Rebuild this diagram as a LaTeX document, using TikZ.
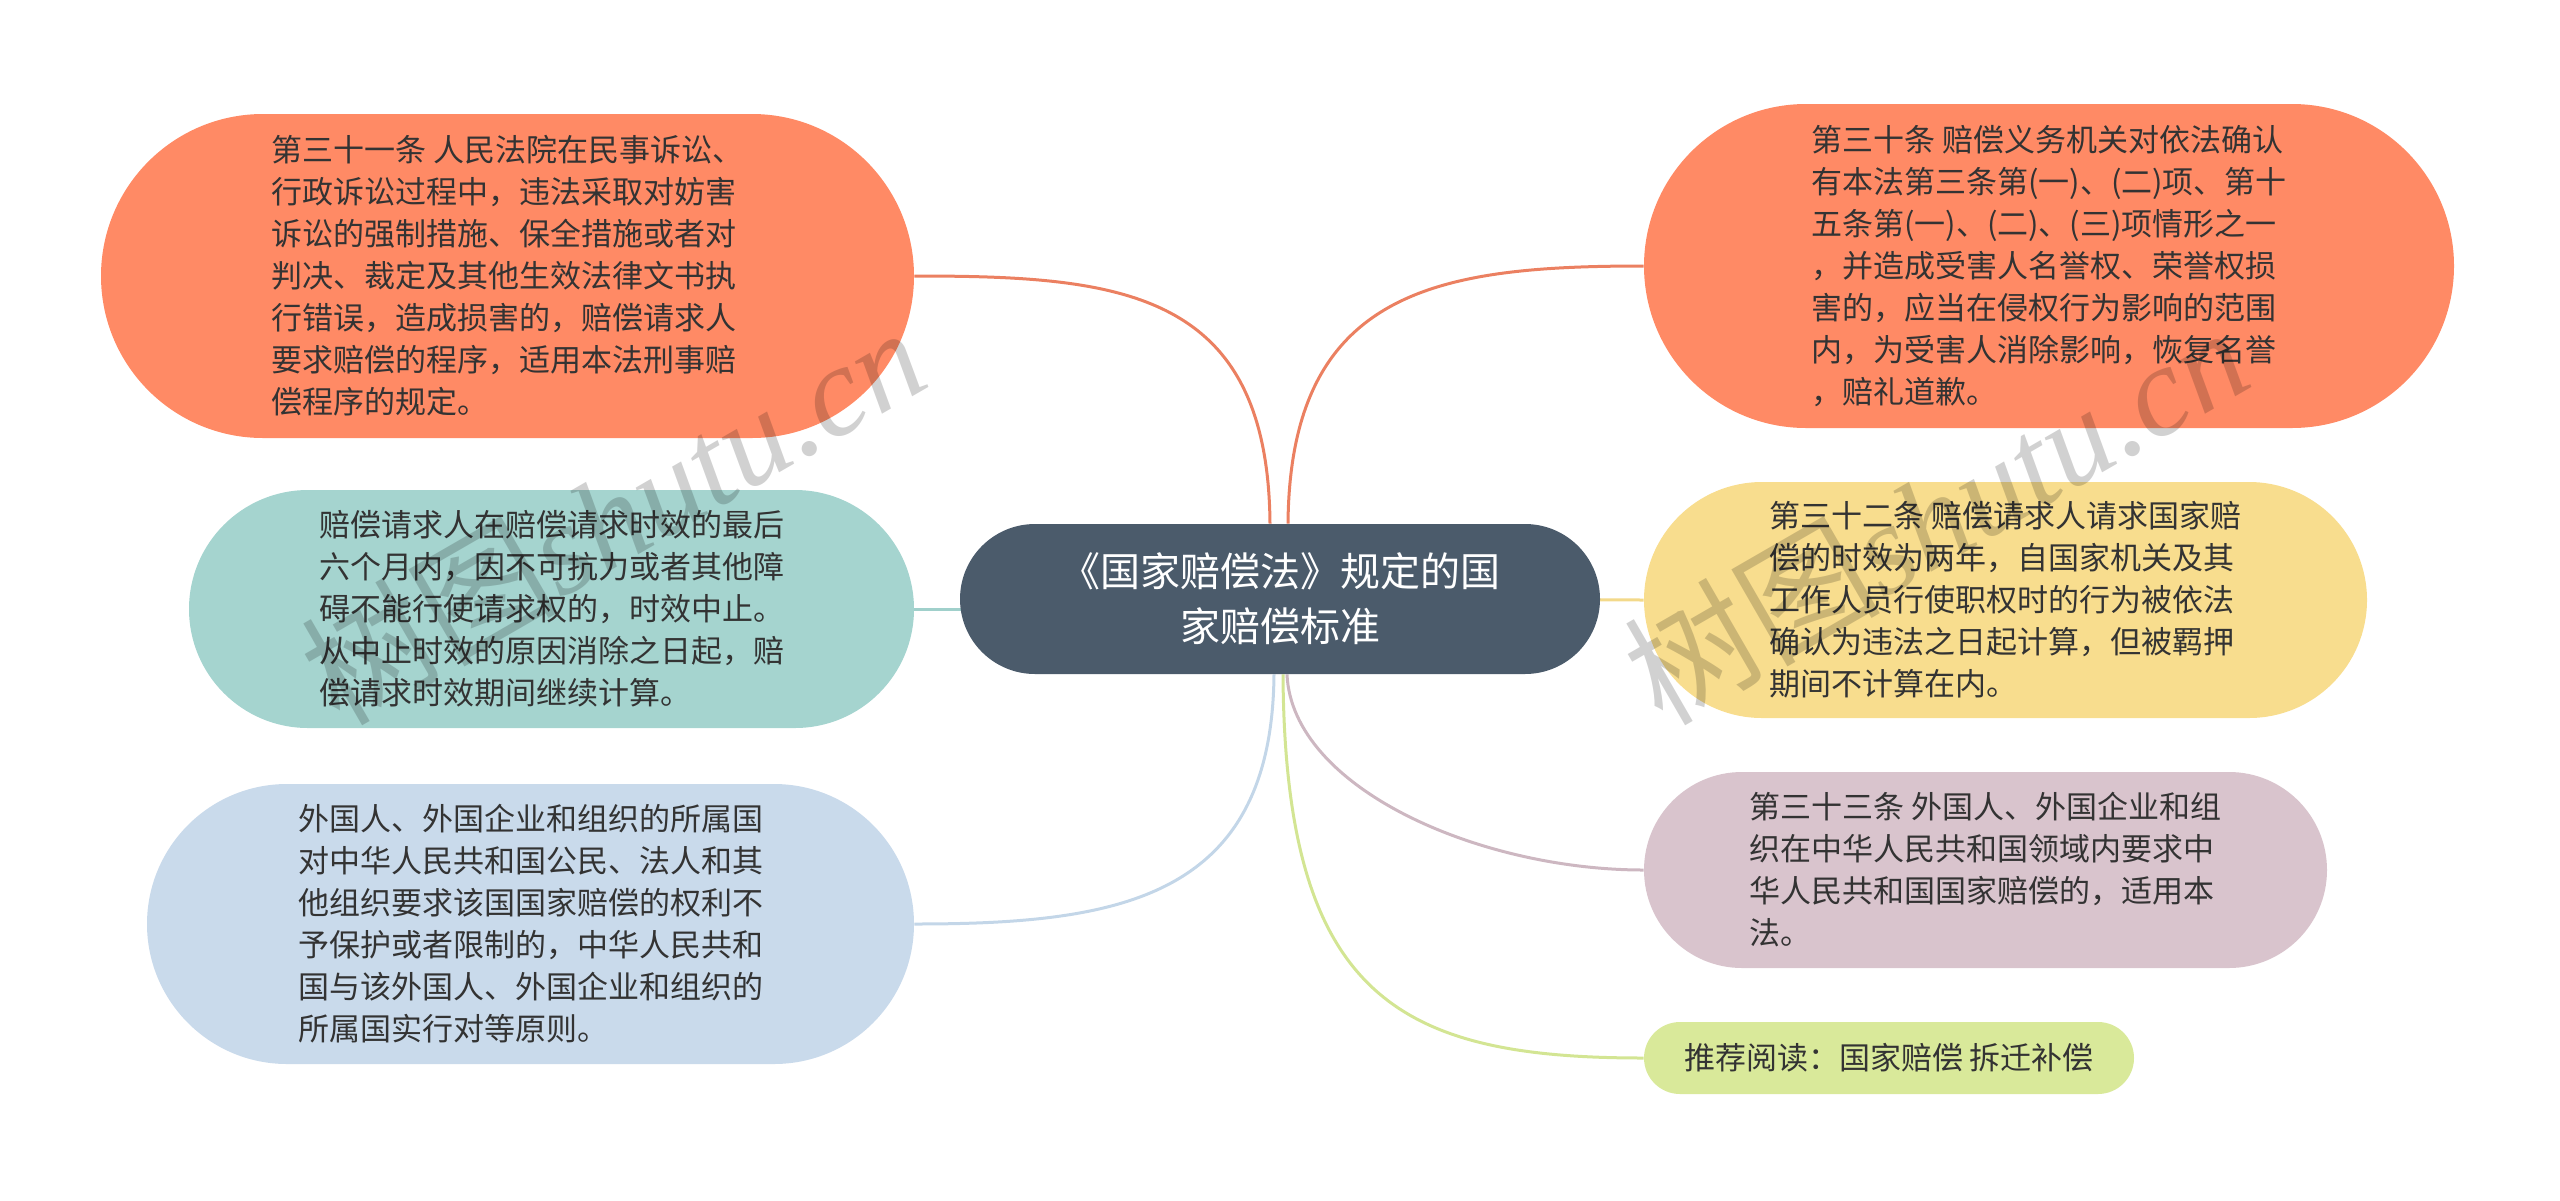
\documentclass[tikz,border=0pt]{standalone}
\usepackage{fontspec}
\setmainfont{Noto Sans CJK SC}
\newfontfamily\wmserif{Liberation Serif}
\pgfdeclarelayer{bg}
\pgfsetlayers{bg,main}
\definecolor{cSalmon}{HTML}{FF8A65}
\definecolor{lSalmon}{HTML}{EB8061}
\definecolor{cTeal}{HTML}{A5D4CF}
\definecolor{lTeal}{HTML}{A0D0CB}
\definecolor{cBlue}{HTML}{C9DAEB}
\definecolor{lBlue}{HTML}{C3D6E8}
\definecolor{cYellow}{HTML}{F8DD8E}
\definecolor{lYellow}{HTML}{F3D98A}
\definecolor{cMauve}{HTML}{D9C4CD}
\definecolor{lMauve}{HTML}{CDB7C1}
\definecolor{cGreen}{HTML}{D9E99A}
\definecolor{lGreen}{HTML}{D3E593}
\definecolor{cCenter}{HTML}{4B5B6B}
\definecolor{txt}{HTML}{333333}
\begin{document}
\begin{tikzpicture}[x=0.5pt,y=-0.5pt,
  leaf/.style={rectangle, inner sep=0pt, align=left, text=txt,
    font=\fontsize{15.5}{21}\selectfont},
  root/.style={rectangle, inner sep=0pt, align=center, text=white, fill=cCenter,
    font=\fontsize{20}{27.5}\selectfont, minimum width=320pt, minimum height=75pt,
    rounded corners=37.5pt},
  link/.style={line width=1.5pt},
  wm/.style={text=black, opacity=0.18, font=\fontsize{64}{64}\selectfont, inner sep=0pt}
]
\useasboundingbox (0,0) rectangle (2560,1200);

\node[root] (ct) at (1280,599) {《国家赔偿法》规定的国\\家赔偿标准};

\node[leaf, fill=cSalmon, minimum width=406.5pt, minimum height=162pt, rounded corners=81pt]
  (n31) at (507.5,276) {第三十一条 人民法院在民事诉讼、\\行政诉讼过程中，违法采取对妨害\\诉讼的强制措施、保全措施或者对\\判决、裁定及其他生效法律文书执\\行错误，造成损害的，赔偿请求人\\要求赔偿的程序，适用本法刑事赔\\偿程序的规定。};

\node[leaf, fill=cSalmon, minimum width=405pt, minimum height=162pt, rounded corners=81pt]
  (n30) at (2049,266) {第三十条 赔偿义务机关对依法确认\\有本法第三条第(一)、(二)项、第十\\五条第(一)、(二)、(三)项情形之一\\，并造成受害人名誉权、荣誉权损\\害的，应当在侵权行为影响的范围\\内，为受害人消除影响，恢复名誉\\，赔礼道歉。};

\node[leaf, fill=cTeal, minimum width=362.5pt, minimum height=119pt, rounded corners=59.5pt]
  (nzz) at (551.5,609) {赔偿请求人在赔偿请求时效的最后\\六个月内，因不可抗力或者其他障\\碍不能行使请求权的，时效中止。\\从中止时效的原因消除之日起，赔\\偿请求时效期间继续计算。};

\node[leaf, fill=cBlue, minimum width=383.5pt, minimum height=140pt, rounded corners=70pt]
  (nwg) at (530.5,924) {外国人、外国企业和组织的所属国\\对中华人民共和国公民、法人和其\\他组织要求该国国家赔偿的权利不\\予保护或者限制的，中华人民共和\\国与该外国人、外国企业和组织的\\所属国实行对等原则。};

\node[leaf, fill=cYellow, minimum width=361.5pt, minimum height=118pt, rounded corners=59pt]
  (n32) at (2005.5,600) {第三十二条 赔偿请求人请求国家赔\\偿的时效为两年，自国家机关及其\\工作人员行使职权时的行为被依法\\确认为违法之日起计算，但被羁押\\期间不计算在内。};

\node[leaf, fill=cMauve, minimum width=341.5pt, minimum height=98pt, rounded corners=49pt]
  (n33) at (1985.5,870) {第三十三条 外国人、外国企业和组\\织在中华人民共和国领域内要求中\\华人民共和国国家赔偿的，适用本\\法。};

\node[leaf, fill=cGreen, minimum width=245pt, minimum height=36pt, rounded corners=18pt]
  (ntj) at (1889,1058) {推荐阅读：国家赔偿 拆迁补偿};

\begin{pgfonlayer}{bg}
\draw[link, lSalmon] ([xshift=-5pt]ct.north) .. controls +(-2,-234) and +(206,0) .. (n31.east);
\draw[link, lSalmon] ([xshift=4pt]ct.north) .. controls +(2,-234) and +(-206,0) .. (n30.west);
\draw[link, lTeal] (nzz.east) -- (nzz.east -| ct.center);
\draw[link, lYellow] (ct.center) -- (n32.west);
\draw[link, lBlue] ([xshift=-3pt]ct.south) .. controls +(-2,224) and +(206,0) .. (nwg.east);
\draw[link, lMauve] ([xshift=3.5pt]ct.south) .. controls +(5,114) and +(-164,0) .. (n33.west);
\draw[link, lGreen] ([xshift=1.5pt]ct.south) .. controls +(2,324) and +(-244,0) .. (ntj.west);
\end{pgfonlayer}

\node[wm, rotate=30] (wm1) at (612,514) {树图{\wmserif\itshape shutu.cn}};
\node[wm, rotate=30] (wm2) at (1935,514) {树图{\wmserif\itshape shutu.cn}};
\end{tikzpicture}
\end{document}
